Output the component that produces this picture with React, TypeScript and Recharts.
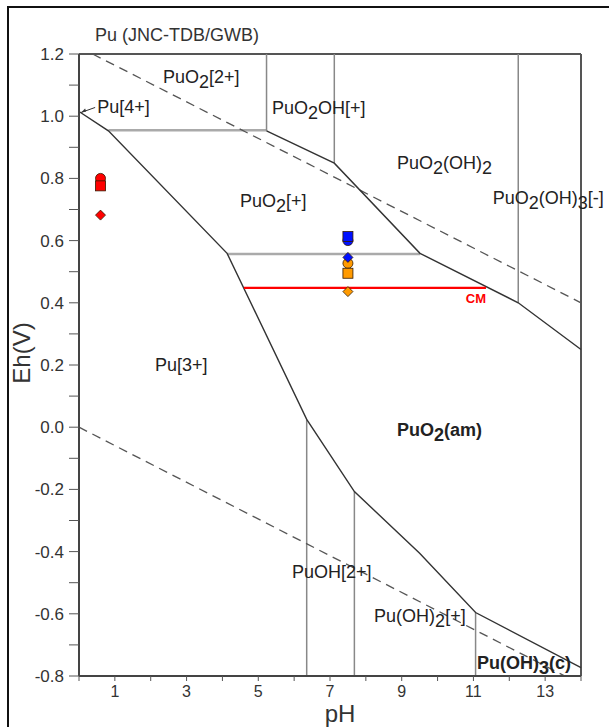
import { ComposedChart, Line, Scatter, XAxis, YAxis, ReferenceLine } from 'recharts'

const FONT = '"Liberation Sans", Arial, sans-serif'

const xTicks = [0, 1, 2, 3, 4, 5, 6, 7, 8, 9, 10, 11, 12, 13, 14]
const yTicks = [
  -0.8, -0.7, -0.6, -0.5, -0.4, -0.3, -0.2, -0.1, 0, 0.1, 0.2,
  0.3, 0.4, 0.5, 0.6, 0.7, 0.8, 0.9, 1.0, 1.1, 1.2,
]

// water stability limits [pH, Eh]
const o2Limit = [[0.38, 1.2], [14, 0.4]]
const h2Limit = [[0, 0], [13.55, -0.8]]

// solid domain boundaries
const lowerBoundary = [
  [0, 1.015], [0.82, 0.953], [4.13, 0.559], [6.35, 0.025],
  [7.68, -0.207], [9.5, -0.405], [11.06, -0.596], [14, -0.773],
]
const upperBoundary = [[5.23, 0.953], [7.12, 0.849], [9.51, 0.559], [12.25, 0.4], [14, 0.25]]

// aqueous species boundaries
const grayHoriz = [
  [[0.82, 0.955], [5.23, 0.955]],
  [[4.13, 0.557], [9.51, 0.557]],
]
const grayVert = [
  [[5.23, 0.953], [5.23, 1.2]],
  [[7.12, 0.849], [7.12, 1.2]],
  [[12.25, 0.4], [12.25, 1.2]],
  [[6.35, 0.025], [6.35, -0.8]],
  [[7.68, -0.207], [7.68, -0.8]],
  [[11.06, -0.596], [11.06, -0.8]],
]
const cmLine = [[4.6, 0.448], [11.35, 0.448]]

// measured samples: Eh for circle, square, diamond
const redPH = 0.6
const redEh = [0.8, 0.776, 0.682]
const bluePH = 7.5
const blueEh = [0.6, 0.613, 0.546]
const orangePH = 7.5
const orangeEh = [0.527, 0.495, 0.436]

// region labels [text, pH, Eh], "_2" = subscript 2
const regionLabels: [string, number, number][] = [
  ['PuO_2[2+]', 2.34, 1.107],
  ['PuO_2OH[+]', 5.38, 1.007],
  ['PuO_2(OH)_2', 8.87, 0.83],
  ['PuO_2(OH)_3[-]', 11.54, 0.718],
  ['PuO_2[+]', 4.49, 0.708],
  ['Pu[3+]', 2.12, 0.181],
  ['PuOH[2+]', 5.94, -0.485],
  ['Pu(OH)_2[+]', 8.23, -0.626],
]
const boldLabels: [string, number, number][] = [
  ['PuO_2(am)', 8.87, -0.028],
  ['Pu(OH)_3(c)', 11.1, -0.777],
]
const pointerLabels: [string, number, number][] = [['Pu[4+]', 0.06, 1.012]]
const cmLabel: [string, number, number][] = [['CM', 11.35, 0.399]]

const pts = (arr: number[][]) => arr.map(([pH, Eh]) => ({ pH, Eh }))
const lbl = (arr: [string, number, number][]) => arr.map(([text, pH, Eh]) => ({ text, pH, Eh }))

function chem(text: string, sub: number) {
  const parts = text.split(/_(\d)/)
  return parts.map((p, i) =>
    i % 2 === 1
      ? <tspan key={i} dy={sub}>{p}</tspan>
      : <tspan key={i} dy={i > 0 ? -sub : 0}>{p}</tspan>
  )
}

const RegionText = (weight: string) => (props: any) => {
  const { cx, cy, payload } = props
  return (
    <text x={cx} y={cy} fontSize={18} fontFamily={FONT} fontWeight={weight} fill="#222">
      {chem(payload.text, 5)}
    </text>
  )
}

const PointerText = (props: any) => {
  const { cx, cy, payload } = props
  return (
    <g>
      <line x1={cx} y1={cy} x2={cx + 14} y2={cy - 5} stroke="#333" strokeWidth={1} />
      <path d={`M${cx} ${cy} l4 -4 l1 3 z`} fill="#333" />
      <text x={cx + 16} y={cy + 1} fontSize={18} fontFamily={FONT} fill="#222">{payload.text}</text>
    </g>
  )
}

const CmText = (props: any) => {
  const { cx, cy, payload } = props
  return (
    <text x={cx} y={cy} fontSize={13} fontWeight="bold" fontFamily={FONT} fill="#ff0000" textAnchor="end">
      {payload.text}
    </text>
  )
}

const markerShape = (kind: string, color: string) => (props: any) => {
  const { cx, cy } = props
  const s = { fill: color, stroke: '#331a00', strokeWidth: 0.8 }
  if (kind === 'circle') return <circle cx={cx} cy={cy} r={5} {...s} />
  if (kind === 'square') return <rect x={cx - 5} y={cy - 5} width={10} height={10} {...s} />
  return <path d={`M${cx} ${cy - 5} L${cx + 5} ${cy} L${cx} ${cy + 5} L${cx - 5} ${cy} Z`} {...s} />
}

const groups = [
  { pH: redPH, eh: redEh, color: '#ff0000' },
  { pH: bluePH, eh: blueEh, color: '#0010ff' },
  { pH: orangePH, eh: orangeEh, color: '#ff9a00' },
]
const kinds = ['circle', 'square', 'diamond']

export default function App() {
  return (
    <div style={{ position: 'absolute', left: 0, top: 0, width: 609, height: 727, overflow: 'hidden', background: '#fff' }}>
      <div style={{ position: 'absolute', left: 7, top: 6, width: 640, height: 760, border: '2px solid #111' }} />
      <div style={{ position: 'absolute', left: 0, top: 0 }}>
        <ComposedChart width={609} height={727} margin={{ top: 54, right: 28, bottom: 21, left: 0 }}>
          <XAxis
            type="number"
            dataKey="pH"
            domain={[0, 14]}
            ticks={xTicks}
            interval={0}
            tickFormatter={(v) => (v % 2 === 1 ? String(v) : '')}
            tick={{ fontSize: 16, fill: '#333', fontFamily: FONT }}
            tickSize={5}
            tickMargin={5}
            height={30}
            axisLine={{ stroke: '#444', strokeWidth: 2 }}
            tickLine={{ stroke: '#555' }}
          />
          <YAxis
            type="number"
            dataKey="Eh"
            domain={[-0.8, 1.2]}
            ticks={yTicks}
            interval={0}
            tickFormatter={(v) => (Math.round(v * 10) % 2 === 0 ? v.toFixed(1) : '')}
            tick={{ fontSize: 17, fill: '#333', fontFamily: FONT }}
            tickSize={10}
            tickMargin={5}
            width={79}
            axisLine={{ stroke: '#444', strokeWidth: 2 }}
            tickLine={{ stroke: '#555' }}
          />
          <ReferenceLine y={1.2} stroke="#555" strokeWidth={2} />
          <ReferenceLine x={14} stroke="#555" strokeWidth={2} />

          {grayHoriz.map((seg, i) => (
            <Line key={`h${i}`} data={pts(seg)} dataKey="Eh" type="linear" stroke="#aaa" strokeWidth={2.5} dot={false} isAnimationActive={false} />
          ))}
          {grayVert.map((seg, i) => (
            <Line key={`v${i}`} data={pts(seg)} dataKey="Eh" type="linear" stroke="#888" strokeWidth={1.5} dot={false} isAnimationActive={false} />
          ))}
          <Line data={pts(o2Limit)} dataKey="Eh" type="linear" stroke="#555" strokeWidth={1.3} strokeDasharray="9 6" dot={false} isAnimationActive={false} />
          <Line data={pts(h2Limit)} dataKey="Eh" type="linear" stroke="#555" strokeWidth={1.3} strokeDasharray="9 6" dot={false} isAnimationActive={false} />
          <Line data={pts(lowerBoundary)} dataKey="Eh" type="linear" stroke="#333" strokeWidth={1.4} dot={false} isAnimationActive={false} />
          <Line data={pts(upperBoundary)} dataKey="Eh" type="linear" stroke="#333" strokeWidth={1.4} dot={false} isAnimationActive={false} />
          <Line data={pts(cmLine)} dataKey="Eh" type="linear" stroke="#ff0000" strokeWidth={2.2} dot={false} isAnimationActive={false} />

          {kinds.map((k) =>
            groups.map((g, gi) => (
              <Scatter
                key={`${k}${gi}`}
                data={[{ pH: g.pH, Eh: g.eh[kinds.indexOf(k)] }]}
                shape={markerShape(k, g.color)}
                isAnimationActive={false}
              />
            ))
          )}

          <Scatter data={lbl(regionLabels)} shape={RegionText('normal')} isAnimationActive={false} />
          <Scatter data={lbl(boldLabels)} shape={RegionText('bold')} isAnimationActive={false} />
          <Scatter data={lbl(pointerLabels)} shape={PointerText} isAnimationActive={false} />
          <Scatter data={lbl(cmLabel)} shape={CmText} isAnimationActive={false} />
        </ComposedChart>
      </div>
      <div style={{ position: 'absolute', left: 95, top: 26, fontSize: 18, lineHeight: 1, fontFamily: FONT, color: '#333', whiteSpace: 'nowrap' }}>
        Pu (JNC-TDB/GWB)
      </div>
      <div
        style={{
          position: 'absolute', left: 22, top: 353, fontSize: 24, lineHeight: 1, fontFamily: FONT, color: '#333',
          whiteSpace: 'nowrap', transform: 'translate(-50%, -50%) rotate(-90deg)',
        }}
      >
        Eh(V)
      </div>
      <div style={{ position: 'absolute', left: 340, top: 702, fontSize: 24, lineHeight: 1, fontFamily: FONT, color: '#333', transform: 'translateX(-50%)' }}>
        pH
      </div>
    </div>
  )
}
